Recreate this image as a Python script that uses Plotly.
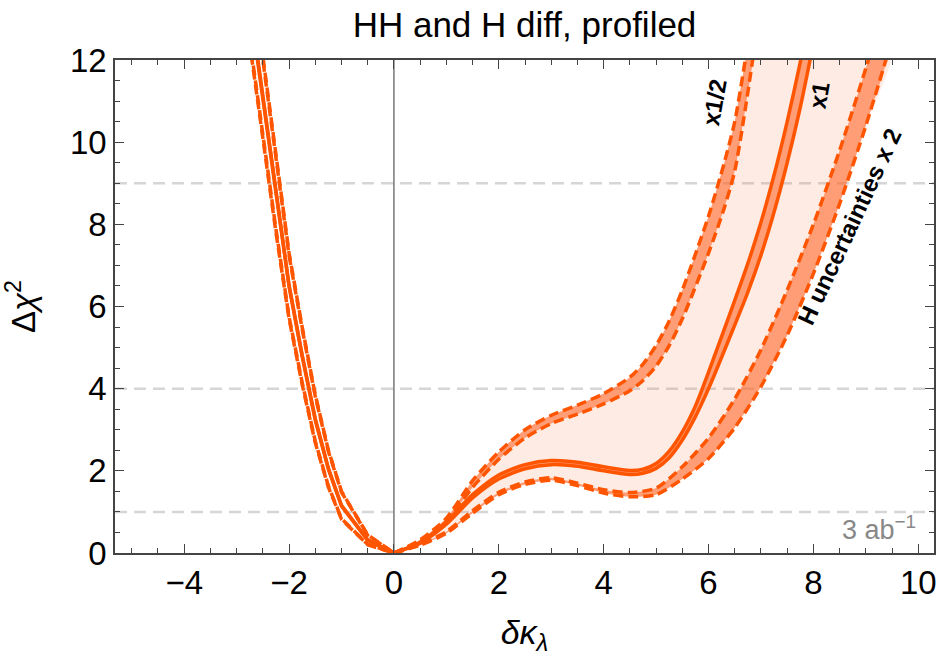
import plotly.graph_objects as go

# ---------------- data ----------------
# left branch (delta kappa_lambda < 0), common grid for all curves
kl_left = [-2.8, -2.5, -2.25, -2.0, -1.75, -1.5, -1.25, -1.0, -0.5, 0.0]
one_a_left = [13.9, 11.15, 8.78, 6.52, 4.82, 3.27, 2.06, 1.16, 0.32, 0.0]
one_b_left = [13.8, 11.05, 8.72, 6.48, 4.78, 3.23, 2.04, 1.14, 0.31, 0.0]
half_a_left = [14.95, 12.15, 9.7, 7.3, 5.5, 3.85, 2.5, 1.5, 0.44, 0.0]
half_b_left = [14.85, 12.05, 9.62, 7.24, 5.45, 3.81, 2.47, 1.48, 0.43, 0.0]
two_a_left = [12.95, 10.15, 7.88, 5.75, 4.15, 2.72, 1.63, 0.84, 0.21, 0.0]
two_b_left = [12.85, 10.05, 7.8, 5.7, 4.1, 2.68, 1.6, 0.82, 0.2, 0.0]

# right branch (delta kappa_lambda > 0)
kl_right_one = [0.0, 0.5, 1.0, 1.5, 2.0, 2.5, 3.0, 3.5, 4.0, 4.5, 4.75, 5.0, 5.25, 5.5, 5.75,
                6.0, 6.5, 6.75, 7.0, 7.25, 7.5, 7.75, 8.0]
one_a_right = [0.0, 0.26, 0.76, 1.42, 1.9, 2.15, 2.25, 2.21, 2.1, 2.01, 2.04, 2.18, 2.48, 2.95, 3.58,
               4.4, 6.15, 7.05, 8.05, 9.2, 10.5, 11.95, 13.6]
one_b_right = [0.0, 0.24, 0.7, 1.34, 1.8, 2.05, 2.15, 2.11, 2.0, 1.91, 1.94, 2.06, 2.32, 2.75, 3.32,
               4.0, 5.55, 6.35, 7.25, 8.3, 9.5, 10.85, 12.4]

kl_right_half = [0.0, 0.5, 1.0, 1.5, 2.0, 2.5, 3.0, 3.5, 4.0, 4.5, 4.75, 5.0, 5.25, 5.5, 6.0, 6.3, 6.5, 6.7, 6.95]
half_a_right = [0.0, 0.32, 0.85, 1.76, 2.46, 3.0, 3.35, 3.6, 3.88, 4.28, 4.6, 5.05, 5.65, 6.4, 8.2, 9.5, 10.5, 12.0, 14.1]
half_b_right = [0.0, 0.29, 0.77, 1.6, 2.28, 2.8, 3.15, 3.38, 3.63, 3.95, 4.2, 4.55, 5.05, 5.7, 7.3, 8.4, 9.3, 10.8, 12.95]

kl_right_two = [0.0, 0.5, 1.0, 1.5, 2.0, 2.5, 3.0, 3.5, 4.0, 4.5, 5.0, 5.5, 6.0, 6.5, 7.0, 7.5, 8.0, 8.5, 9.0, 9.5]
two_a_right = [0.0, 0.21, 0.52, 1.03, 1.48, 1.73, 1.83, 1.7, 1.54, 1.47, 1.58, 2.1, 2.8, 3.75, 4.95, 6.4, 8.0, 9.8, 11.8, 14.0]
two_b_right = [0.0, 0.19, 0.48, 0.97, 1.42, 1.67, 1.77, 1.64, 1.46, 1.37, 1.42, 1.8, 2.3, 3.05, 4.05, 5.3, 6.8, 8.5, 10.4, 12.5]

cl_levels = [1, 4, 9]
sm_point = 0.0

x_ticks = [-4, -2, 0, 2, 4, 6, 8, 10]
y_ticks = [0, 2, 4, 6, 8, 10, 12]

LINE = "#ff5500"
BAND = "rgba(255,100,40,0.58)"
LIGHT = "rgba(250,120,70,0.15)"
FONT = "Liberation Sans"
DASH = "10px,5px"

fig = go.Figure()


def band(xa, ya, xb, yb, color, shape):
    fig.add_trace(go.Scatter(
        x=list(xa) + list(xb)[::-1], y=list(ya) + list(yb)[::-1],
        fill="toself", fillcolor=color, mode="lines",
        line=dict(width=0, shape=shape, smoothing=0.7),
        hoverinfo="skip", showlegend=False))


def line(x, y, dash, shape):
    fig.add_trace(go.Scatter(x=x, y=y, mode="lines",
                             line=dict(color=LINE, width=3.5, dash=dash, shape=shape, smoothing=0.7),
                             hoverinfo="skip", showlegend=False))


# light envelope (right branch only)
band(kl_right_half, half_a_right, kl_right_two, two_b_right, LIGHT, "spline")
# inner bands
band(kl_right_half, half_a_right, kl_right_half, half_b_right, BAND, "spline")
band(kl_right_one, one_a_right, kl_right_one, one_b_right, BAND, "spline")
band(kl_right_two, two_a_right, kl_right_two, two_b_right, BAND, "spline")

# left branch lines (sampled, straight segments)
for ys, dash in [(half_a_left, DASH), (half_b_left, DASH), (two_a_left, DASH),
                 (two_b_left, DASH), (one_a_left, "solid"), (one_b_left, "solid")]:
    line(kl_left, ys, dash, "linear")

# right branch lines (smooth)
for xs, ys, dash in [(kl_right_half, half_a_right, DASH), (kl_right_half, half_b_right, DASH),
                     (kl_right_two, two_a_right, DASH), (kl_right_two, two_b_right, DASH),
                     (kl_right_one, one_a_right, "solid"), (kl_right_one, one_b_right, "solid")]:
    line(xs, ys, dash, "spline")

shapes = []
for lv in cl_levels:
    shapes.append(dict(type="line", xref="paper", x0=0, x1=1, yref="y", y0=lv, y1=lv,
                       line=dict(color="#d6d6d6", width=2.5, dash="12px,7px"), layer="below"))
shapes.append(dict(type="line", xref="x", x0=sm_point, x1=sm_point, yref="paper", y0=0, y1=1,
                   line=dict(color="#333333", width=1), layer="below"))

ax_common = dict(showgrid=False, zeroline=False, showline=True, linecolor="#444444",
                 linewidth=1.5, mirror="allticks", ticks="inside", ticklen=9,
                 tickwidth=1.2, tickcolor="#444444",
                 tickfont=dict(family=FONT, size=33, color="black"))

fig.update_layout(
    width=943, height=658,
    margin=dict(l=115, r=6, t=60, b=105),
    plot_bgcolor="white", paper_bgcolor="white",
    title=dict(text="HH and H diff, profiled", x=0.5, xref="paper", xanchor="center",
               y=1 - 25 / 658, yref="container", yanchor="middle",
               font=dict(family=FONT, size=35, color="black")),
    xaxis=dict(range=[-5.32, 10.3], tickvals=x_ticks,
               minor=dict(dtick=0.5, tick0=0, ticks="inside", ticklen=5, tickcolor="#444444", tickwidth=1),
               title=dict(text="<i>δκ</i><sub><i>λ</i></sub>", standoff=20,
                          font=dict(family=FONT, size=34, color="black")),
               **ax_common),
    yaxis=dict(range=[0, 12], tickvals=y_ticks,
               minor=dict(dtick=0.5, tick0=0, ticks="inside", ticklen=5, tickcolor="#444444", tickwidth=1),
               title=dict(text="Δ<i>χ</i><sup>2</sup>", standoff=28,
                          font=dict(family=FONT, size=33, color="black")),
               **ax_common),
    shapes=shapes,
    annotations=[
        dict(x=6.12, y=10.98, xref="x", yref="y", text="<b>x1/2</b>", showarrow=False,
             textangle=-80, font=dict(family=FONT, size=24, color="black")),
        dict(x=8.12, y=11.15, xref="x", yref="y", text="<b>x1</b>", showarrow=False,
             textangle=-80, font=dict(family=FONT, size=24, color="black")),
        dict(x=8.69, y=7.94, xref="x", yref="y", text="<b>H uncertainties x 2</b>", showarrow=False,
             textangle=-65, font=dict(family=FONT, size=24, color="black")),
        dict(x=9.26, y=0.6, xref="x", yref="y", text="3 ab<sup>−1</sup>", showarrow=False,
             font=dict(family=FONT, size=27, color="#888888")),
    ],
)

# remove the browser's default 8px page margin so the figure sits at the window origin
fig.write_html("out.html", config={"displayModeBar": False},
               post_script="document.body.style.margin='0';")
